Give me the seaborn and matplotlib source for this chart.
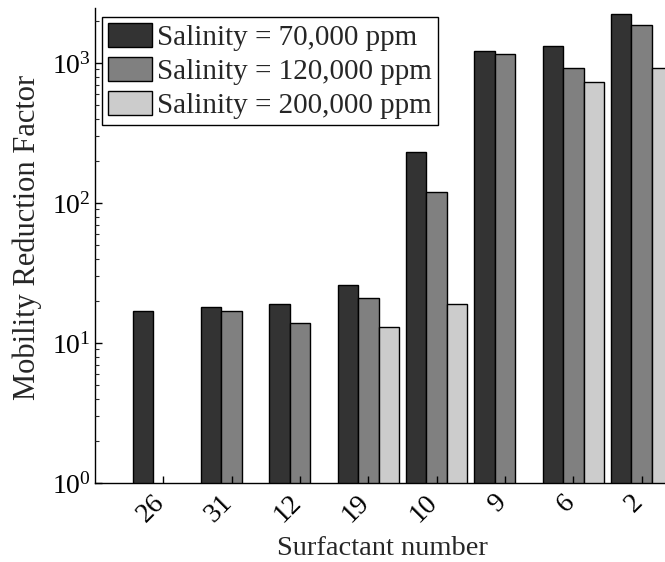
import numpy as np
import pandas as pd
import matplotlib
matplotlib.use("Agg")
import matplotlib.pyplot as plt
import matplotlib.transforms as mtransforms
import seaborn as sns
from matplotlib.ticker import LogLocator, NullFormatter

surfactants = ["26", "31", "12", "19", "10", "9", "6", "2"]
series_names = ["Salinity = 70,000 ppm", "Salinity = 120,000 ppm", "Salinity = 200,000 ppm"]
sal_70k = [17, 18, 19, 26, 230, 1220, 1320, 2240]
sal_120k = [np.nan, 17, 14, 21, 120, 1150, 915, 1870]
sal_200k = [np.nan, np.nan, np.nan, 13, 19, np.nan, 735, 925]
colors = ["#333333", "#808080", "#cccccc"]

sns.set_style("ticks")
plt.rcParams["font.family"] = ["Liberation Serif", "DejaVu Serif"]
plt.rcParams["mathtext.fontset"] = "custom"
plt.rcParams["mathtext.rm"] = "Liberation Serif"
plt.rcParams["mathtext.it"] = "Liberation Serif:italic"
plt.rcParams["font.size"] = 20

rows = []
for name, vals in zip(series_names, [sal_70k, sal_120k, sal_200k]):
    for s, v in zip(surfactants, vals):
        rows.append({"Surfactant": s, "Series": name, "MRF": v})
df = pd.DataFrame(rows)

fig = plt.figure(figsize=(6.65, 5.62), dpi=100)
ax = fig.add_axes([95 / 665, 79 / 562, 615 / 665, 475 / 562])
ax.set_yscale("log")
sns.barplot(data=df.dropna(), x="Surfactant", y="MRF", hue="Series",
            order=surfactants, hue_order=series_names, palette=colors,
            width=0.9, gap=0, edgecolor="black", linewidth=1.0,
            errorbar=None, saturation=1, ax=ax)

ax.set_ylim(1, 2470)
ax.set_xlim(-1, 8)
ax.yaxis.set_major_locator(LogLocator(base=10, numticks=10))
ax.yaxis.set_minor_locator(LogLocator(base=10, subs=np.arange(2, 10), numticks=20))
ax.yaxis.set_minor_formatter(NullFormatter())
ax.tick_params(axis="both", which="major", direction="in", length=5, width=1,
               labelsize=20, colors="black")
ax.tick_params(axis="y", which="minor", direction="in", length=3, width=0.8, left=True)
ax.tick_params(axis="x", pad=5)
ax.tick_params(axis="y", pad=3)
offset = mtransforms.ScaledTranslation(6 / 100, 0, fig.dpi_scale_trans)
for lab in ax.get_xticklabels():
    lab.set_rotation(45)
    lab.set_ha("right")
    lab.set_transform(lab.get_transform() + offset)
ax.set_axisbelow(False)

sns.despine(ax=ax, top=True, right=True)
for sp in ["left", "bottom"]:
    ax.spines[sp].set_color("black")
    ax.spines[sp].set_linewidth(1)

ax.set_xlabel("Surfactant number", fontsize=20.5)
ax.set_ylabel("Mobility Reduction Factor", fontsize=22)
ax.xaxis.set_label_coords((382 - 95) / 615, -(555 - 483) / 475)
ax.xaxis.label.set_va("baseline")
ax.yaxis.set_label_coords((42 - 95) / 615, 1 - (237 - 8) / 475)

handles, labels = ax.get_legend_handles_labels()
ax.legend(handles, labels, loc="upper left",
          bbox_to_anchor=((102 - 95) / 615, 1 - (17 - 8) / 475),
          frameon=True, fancybox=False, edgecolor="black", framealpha=1,
          fontsize=21, handlelength=1.5, handleheight=0.87, handletextpad=0.15,
          labelspacing=0.2, borderpad=0.22, borderaxespad=0, title=None)
ax.get_legend().get_frame().set_linewidth(1)

fig.savefig("out.png", dpi=100)
